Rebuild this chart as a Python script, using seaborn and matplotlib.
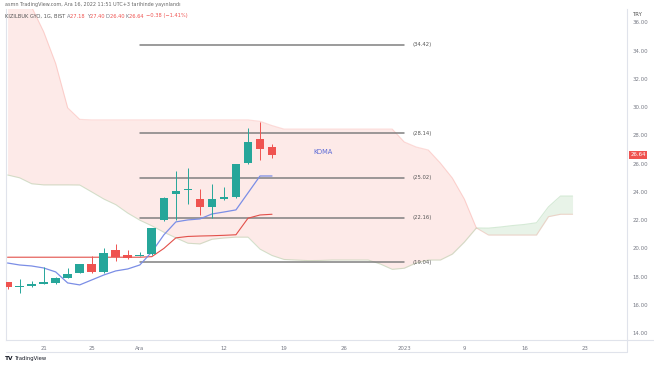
import numpy as np
import pandas as pd
import matplotlib
matplotlib.use("Agg")
import matplotlib.pyplot as plt
import seaborn as sns
from matplotlib.lines import Line2D

# ======================================
# DATA
# ======================================

# daily bars, 16 Nov - 16 Dec 2022 (trading days only)
opens = [17.60, 17.30, 17.35, 17.49, 17.58, 17.93, 18.29, 18.88, 18.31, 19.89,
         19.54, 19.49, 19.61, 21.99, 23.83, 24.15, 23.50, 22.94, 23.50, 23.64,
         26.05, 27.75, 27.18]
highs = [17.62, 17.84, 17.72, 18.69, 17.96, 18.60, 18.92, 19.47, 20.01, 20.32,
         19.89, 19.73, 21.45, 23.63, 25.50, 25.70, 24.21, 24.56, 24.37, 26.00,
         28.53, 28.97, 27.40]
lows = [17.15, 16.85, 17.30, 17.45, 17.49, 17.90, 18.26, 18.24, 18.24, 19.14,
        19.28, 19.45, 19.52, 21.95, 22.02, 23.15, 22.37, 22.16, 23.45, 23.60,
        26.00, 26.26, 26.40]
closes = [17.28, 17.36, 17.47, 17.63, 17.89, 18.17, 18.88, 18.31, 19.66, 19.38,
          19.31, 19.52, 21.43, 23.59, 24.09, 24.20, 22.94, 23.50, 23.64, 25.98,
          27.54, 27.02, 26.64]

# ichimoku conversion (tenkan) and base (kijun) lines
tenkan = [18.97, 18.83, 18.76, 18.62, 18.34, 17.56, 17.42, 17.77, 18.12, 18.41,
          18.55, 18.83, 19.75, 20.96, 21.88, 22.02, 22.09, 22.44, 22.58, 22.73,
          23.93, 25.13, 25.13]
kijun = [19.38, 19.38, 19.38, 19.38, 19.38, 19.38, 19.38, 19.38, 19.38, 19.38,
         19.38, 19.38, 19.42, 20.00, 20.75, 20.85, 20.88, 20.90, 20.93, 20.97,
         22.14, 22.37, 22.42]

# cloud (leading spans), shifted 25 bars ahead
span_a = [25.20, 25.00, 24.58, 24.50, 24.50, 24.50, 24.49, 24.00, 23.50, 23.10,
          22.50, 22.00, 21.60, 21.15, 20.75, 20.37, 20.32, 20.65, 20.74, 20.80,
          20.80, 19.95, 19.50, 19.22, 19.18, 19.14, 19.15, 19.18, 19.18, 19.18,
          19.18, 18.90, 18.52, 18.60, 18.98, 19.18, 19.18, 19.60, 20.45, 21.45,
          21.44, 21.52, 21.62, 21.70, 21.82, 22.95, 23.71, 23.71]
span_b = [39.00, 38.20, 37.10, 35.35, 33.10, 29.96, 29.14, 29.10, 29.10, 29.10,
          29.10, 29.10, 29.10, 29.10, 29.10, 29.10, 29.10, 29.10, 29.10, 29.10,
          29.10, 29.00, 28.70, 28.45, 28.45, 28.45, 28.45, 28.45, 28.45, 28.45,
          28.45, 28.45, 28.45, 27.54, 27.18, 26.97, 26.05, 24.99, 23.50, 21.45,
          20.95, 20.95, 20.95, 20.95, 20.95, 22.25, 22.42, 22.42]

# horizontal levels drawn on the chart
levels = [34.42, 28.14, 25.02, 22.16, 19.04]
level_from = 11   # bar index (1 Dec)
level_to = 33     # bar index (2 Jan)

tick_pos = [3, 7, 11, 18, 23, 28, 33, 38, 43, 48]
tick_labels = ["21", "25", "Ara", "12", "19", "26", "2023", "9", "16", "23"]
price_ticks = [14, 16, 18, 20, 22, 24, 26, 28, 30, 32, 34, 36]

UP = "#26a69a"
DOWN = "#ef5350"
TXT = "#787b86"
EDGE = "#e0e3eb"

# ======================================
# FIGURE
# ======================================

sns.set_theme(style="white")
plt.rcParams["font.family"] = ["DejaVu Sans"]

W, H = 654, 366
fig = plt.figure(figsize=(W / 100, H / 100), dpi=100)
ax = fig.add_axes([6 / W, 1 - 340 / H, (627 - 6) / W, (340 - 9) / H])

df = pd.DataFrame({"o": opens, "h": highs, "l": lows, "c": closes})
df["x"] = np.arange(len(df))
df["color"] = np.where(df["c"] >= df["o"], UP, DOWN)

cloud = pd.DataFrame({"a": span_a, "b": span_b})
cloud["x"] = np.arange(len(cloud))

# cloud fill
ax.fill_between(cloud["x"], cloud["a"], cloud["b"], where=cloud["a"] <= cloud["b"],
                interpolate=True, color="#F44336", alpha=0.11, linewidth=0)
ax.fill_between(cloud["x"], cloud["a"], cloud["b"], where=cloud["a"] >= cloud["b"],
                interpolate=True, color="#43A047", alpha=0.12, linewidth=0)
sns.lineplot(data=cloud, x="x", y="a", ax=ax, color="#43A047", alpha=0.22, lw=0.8)
sns.lineplot(data=cloud, x="x", y="b", ax=ax, color="#F44336", alpha=0.18, lw=0.8)

# levels
for lv in levels:
    ax.plot([level_from, level_to], [lv, lv], color="#808080", lw=1.1, zorder=3)
    ax.text(level_to + 0.7, lv, f"({lv:.2f})", fontsize=3.8, color="#555555",
            va="center", ha="left", zorder=4)

# tenkan / kijun
lines = pd.DataFrame({"x": df["x"], "tenkan": tenkan, "kijun": kijun})
sns.lineplot(data=lines, x="x", y="kijun", ax=ax, color="#e2504a", lw=0.8, zorder=4)
sns.lineplot(data=lines, x="x", y="tenkan", ax=ax, color="#7b8ee6", lw=0.9, zorder=4)

# candles
body = (df["c"] - df["o"]).abs().clip(lower=0.05)
ax.vlines(df["x"], df["l"], df["h"], colors=df["color"], lw=0.7, zorder=5)
ax.bar(df["x"], body, bottom=df[["o", "c"]].min(axis=1), width=0.72,
       color=df["color"], linewidth=0, zorder=6)

ax.text(26.2, 26.85, "KOMA", fontsize=4.8, color="#5d6bd6", ha="center", va="center")

# axes
ax.set_xlim(-0.13, 51.53)
ax.set_ylim(13.52, 36.95)
ax.set_xlabel("")
ax.set_ylabel("")
ax.yaxis.tick_right()
ax.set_yticks(price_ticks)
ax.set_yticklabels([f"{p:.2f}" for p in price_ticks])
ax.set_xticks(tick_pos)
ax.set_xticklabels(tick_labels)
ax.tick_params(axis="y", length=0, pad=4, labelsize=3.9, labelcolor=TXT)
ax.tick_params(axis="x", length=0, pad=4.5, labelsize=3.9, labelcolor=TXT)
for side in ["top"]:
    ax.spines[side].set_visible(False)
for side in ["left", "bottom", "right"]:
    ax.spines[side].set_color(EDGE)
    ax.spines[side].set_linewidth(0.8)

# last price tag
ax.annotate(f"{closes[-1]:.2f}", xy=(1.0, closes[-1]), xycoords=("axes fraction", "data"),
            xytext=(2.5, 0), textcoords="offset points", fontsize=3.9, color="white",
            va="center", ha="left", annotation_clip=False,
            bbox=dict(boxstyle="square,pad=0.25", fc=DOWN, ec="none"))

# frame lines below / right of the axes
fig.add_artist(Line2D([6 / W, 627 / W], [1 - 352 / H, 1 - 352 / H], color=EDGE, lw=0.8))
fig.add_artist(Line2D([627 / W, 627 / W], [1 - 352 / H, 1 - 340 / H], color=EDGE, lw=0.8))
fig.add_artist(Line2D([627 / W, 1.0], [1 - 340 / H, 1 - 340 / H], color=EDGE, lw=0.8))

# header texts
fig.text(5 / W, 1 - 4.5 / H, "asmn TradingView.com, Ara 16, 2022 11:51 UTC+3 tarihinde yayınlandı",
         fontsize=3.5, color="#666666", va="center", ha="left")
t = fig.text(5 / W, 1 - 16 / H, "KIZILBUK GYO, 1G, BIST ", fontsize=3.7,
             color="#555555", va="center", ha="left")
parts = [("A", TXT), ("27.18 ", DOWN), ("Y", TXT), ("27.40 ", DOWN), ("D", TXT),
         ("26.40 ", DOWN), ("K", TXT), ("26.64 ", DOWN), ("\u22120.38 (\u22121.41%)", DOWN)]
prev = t
for s, col in parts:
    prev = ax.annotate(s, xy=(1, 0), xycoords=prev, xytext=(0, 0), textcoords="offset points",
                       fontsize=3.7, color=col, va="bottom", ha="left", annotation_clip=False)

fig.text(632 / W, 1 - 15 / H, "TRY", fontsize=3.9, color="#555555", va="center", ha="left")

# logo
fig.text(5 / W, 1 - 358.5 / H, "TV", fontsize=4.2, fontweight="bold", color="#131722",
         va="center", ha="left")
fig.text(15 / W, 1 - 358.5 / H, "TradingView", fontsize=3.8, color="#131722",
         va="center", ha="left")

fig.savefig("out.png", dpi=100)
